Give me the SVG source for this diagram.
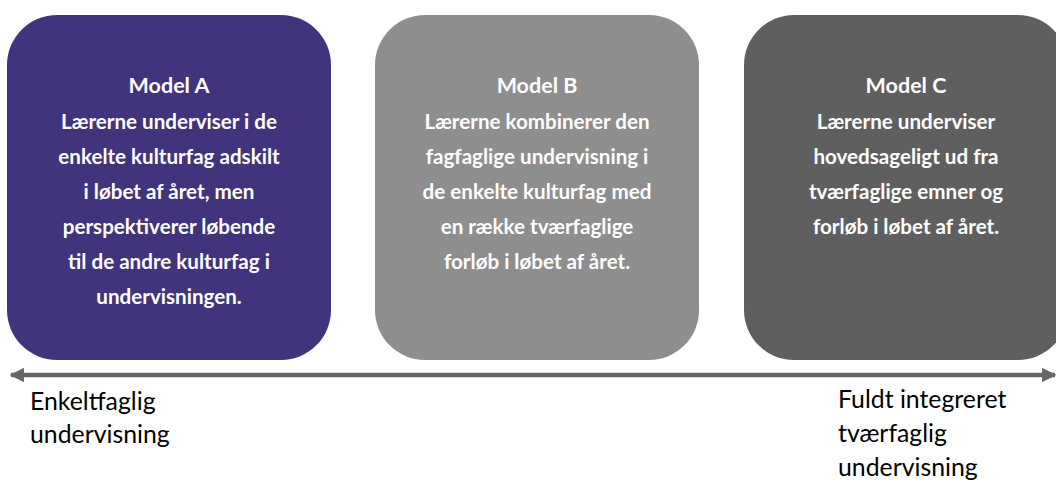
<svg xmlns="http://www.w3.org/2000/svg" width="1056" height="482" viewBox="0 0 1056 482">
  <style>
    .box-text { font-family: "Lato", "Liberation Sans", sans-serif; font-weight: bold; font-size: 20.6px; fill: #ffffff; text-anchor: middle; }
    .title { font-size: 21.5px; }
    .axis-label { font-family: "Lato", "Liberation Sans", sans-serif; font-size: 24.8px; fill: #000000; }
  </style>
  <defs>
    <marker id="head" viewBox="0 0 10 10" refX="9" refY="5" markerWidth="3.3" markerHeight="3.2" orient="auto-start-reverse" markerUnits="strokeWidth">
      <path d="M0,0 L10,5 L0,10 z" fill="#666666"/>
    </marker>
  </defs>

  <g id="model-a">
    <rect x="7" y="15" width="324" height="345" rx="50" ry="50" fill="#41337c"/>
    <text class="box-text title" x="169" y="93">Model A</text>
    <text class="box-text" x="169" y="129">Lærerne underviser i de</text>
    <text class="box-text" x="169" y="164">enkelte kulturfag adskilt</text>
    <text class="box-text" x="169" y="199">i løbet af året, men</text>
    <text class="box-text" x="169" y="234">perspektiverer løbende</text>
    <text class="box-text" x="169" y="269">til de andre kulturfag i</text>
    <text class="box-text" x="169" y="304">undervisningen.</text>
  </g>

  <g id="model-b">
    <rect x="375" y="15" width="324" height="345" rx="50" ry="50" fill="#8e8e8e"/>
    <text class="box-text title" x="537" y="93">Model B</text>
    <text class="box-text" x="537" y="129">Lærerne kombinerer den</text>
    <text class="box-text" x="537" y="164">fagfaglige undervisning i</text>
    <text class="box-text" x="537" y="199">de enkelte kulturfag med</text>
    <text class="box-text" x="537" y="234">en række tværfaglige</text>
    <text class="box-text" x="537" y="269">forløb i løbet af året.</text>
  </g>

  <g id="model-c">
    <rect x="744" y="15" width="324" height="345" rx="50" ry="50" fill="#5f5f5f"/>
    <text class="box-text title" x="906" y="93">Model C</text>
    <text class="box-text" x="906" y="129">Lærerne underviser</text>
    <text class="box-text" x="906" y="164">hovedsageligt ud fra</text>
    <text class="box-text" x="906" y="199">tværfaglige emner og</text>
    <text class="box-text" x="906" y="234">forløb i løbet af året.</text>
  </g>

  <g id="connectors">
    <line x1="11" y1="375" x2="1055" y2="375" stroke="#666666" stroke-width="4.5" marker-start="url(#head)" marker-end="url(#head)"/>
  </g>

  <g id="axis-labels">
    <text class="axis-label" x="30" y="410">Enkeltfaglig</text>
    <text class="axis-label" x="30" y="443">undervisning</text>
    <text class="axis-label" x="838" y="408">Fuldt integreret</text>
    <text class="axis-label" x="838" y="442">tværfaglig</text>
    <text class="axis-label" x="838" y="476">undervisning</text>
  </g>
</svg>
